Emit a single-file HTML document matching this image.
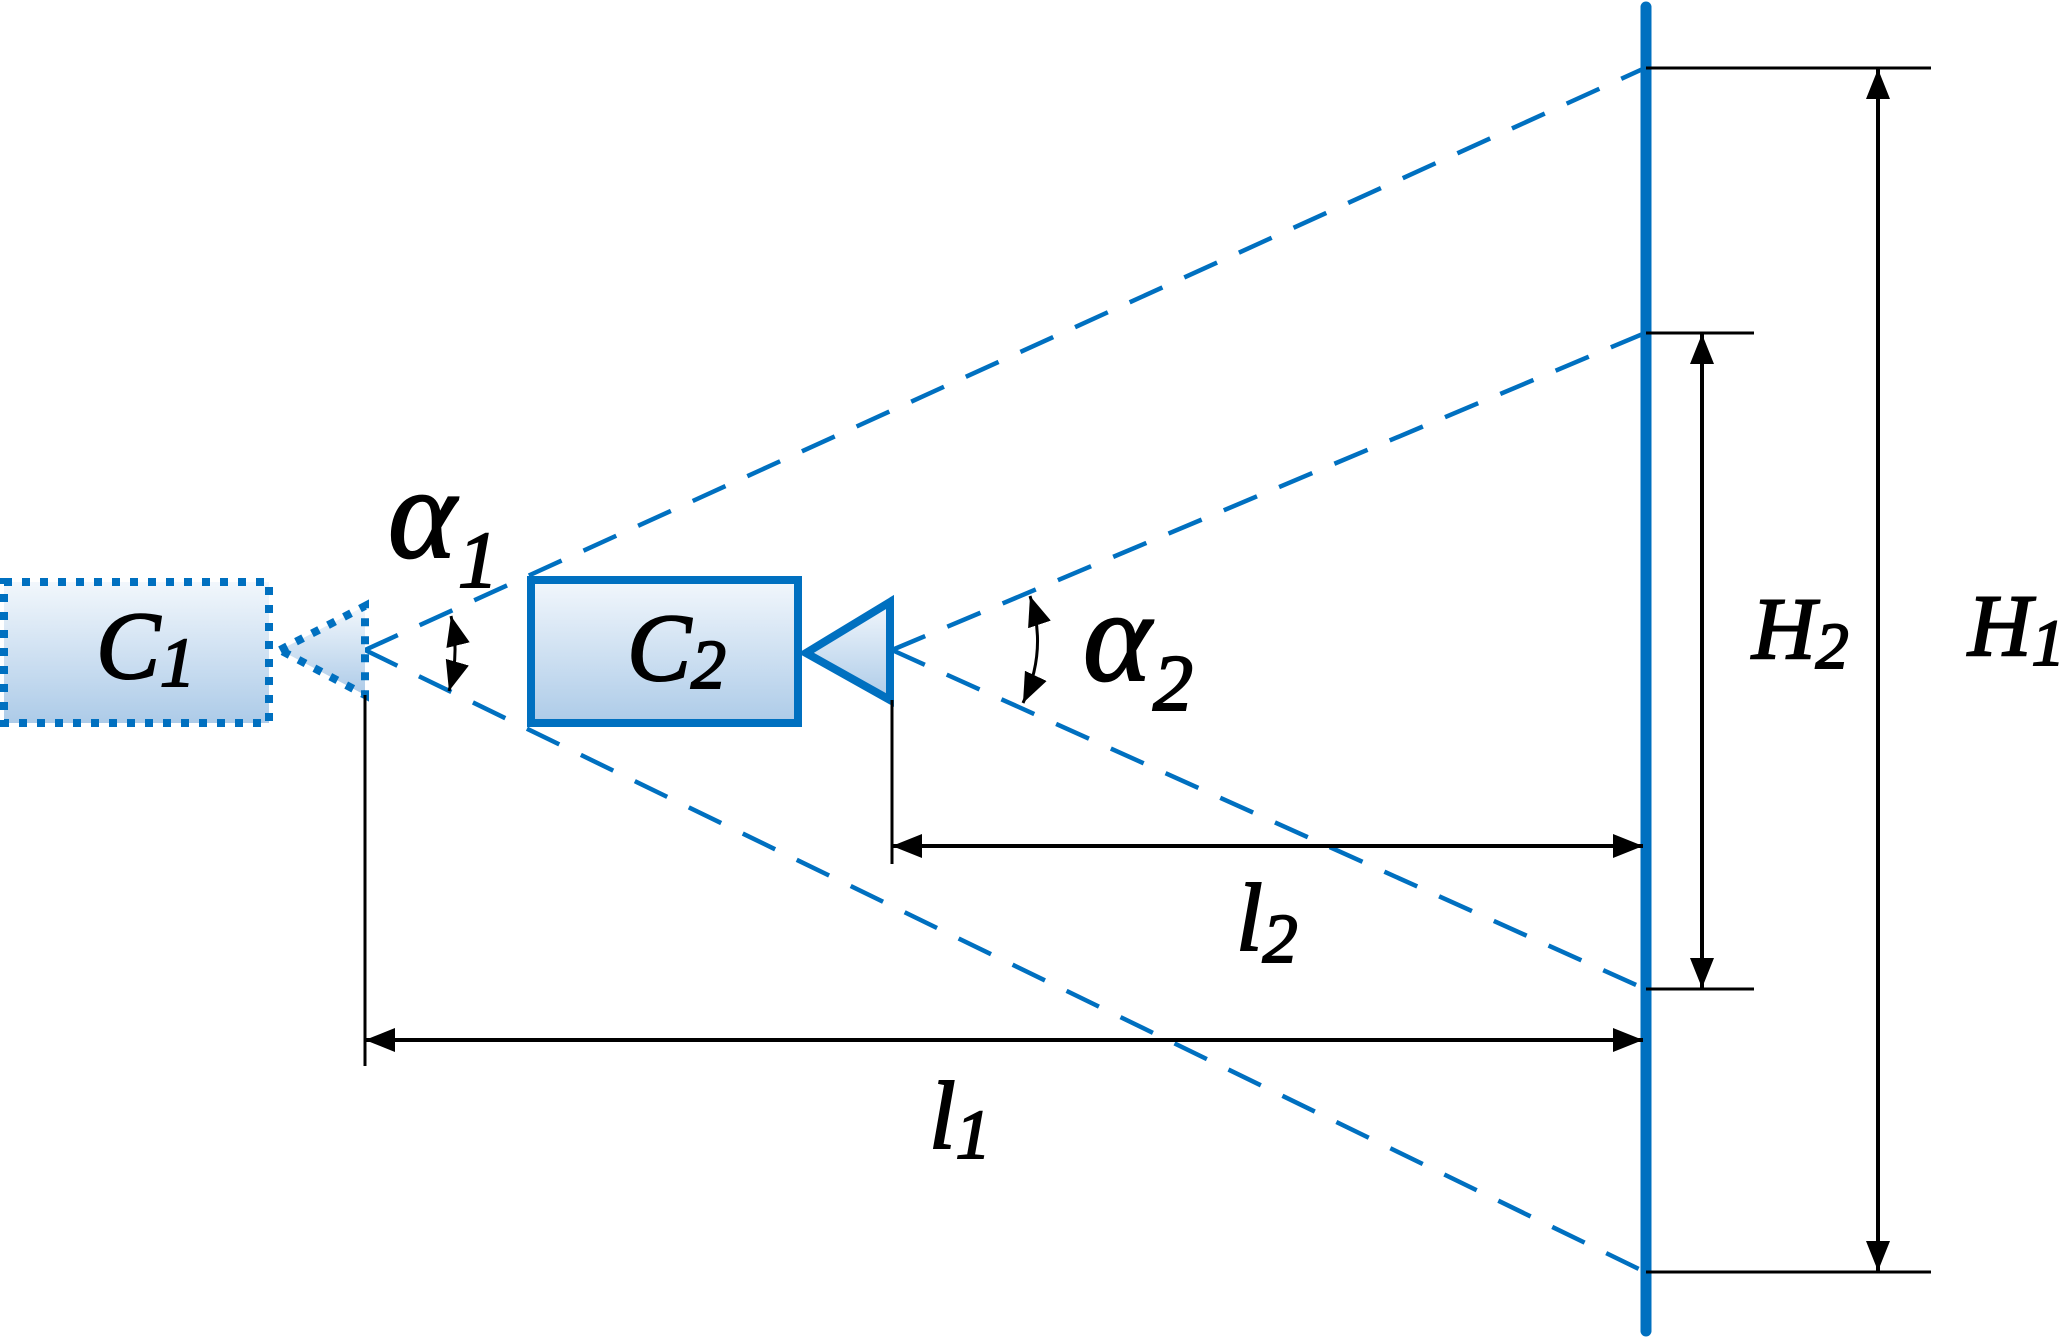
<!DOCTYPE html>
<html><head><meta charset="utf-8"><style>
html,body{margin:0;padding:0;background:#fff;}
svg{display:block;}
text{font-family:"Liberation Serif","Times New Roman",serif;font-style:italic;font-weight:normal;fill:#000;stroke:#000;stroke-width:2;}
</style></head><body>
<svg width="2067" height="1338" viewBox="0 0 2067 1338" xmlns="http://www.w3.org/2000/svg">
<defs>
<linearGradient id="g" x1="0" y1="0" x2="0" y2="1">
<stop offset="0" stop-color="#f2f7fc"/>
<stop offset="1" stop-color="#adcbe8"/>
</linearGradient>
<marker id="big" viewBox="0 0 30 24" refX="30" refY="12" markerWidth="30" markerHeight="24" markerUnits="userSpaceOnUse" orient="auto-start-reverse">
<path d="M0,0 L30,12 L0,24 z" fill="#000"/>
</marker>
</defs>

<g stroke="#0070c0" stroke-width="4.5" stroke-dasharray="36 24" fill="none">
<line x1="365" y1="650" x2="1645" y2="68"/>
<line x1="365" y1="650" x2="1645" y2="1272"/>
<line x1="892" y1="650" x2="1645" y2="333"/>
<line x1="892" y1="650" x2="1645" y2="989"/>
</g>

<rect x="4" y="582" width="265" height="141" fill="url(#g)" stroke="#0070c0" stroke-width="8" stroke-dasharray="8 10"/>
<polygon points="280,650 365,606 365,695" fill="url(#g)" stroke="#0070c0" stroke-width="8" stroke-dasharray="8 10"/>

<rect x="531" y="580" width="267" height="143" fill="url(#g)" stroke="#0070c0" stroke-width="8"/>
<polygon points="806,653 890,602 890,700" fill="url(#g)" stroke="#0070c0" stroke-width="8"/>

<line x1="1646" y1="7" x2="1646" y2="1331" stroke="#0070c0" stroke-width="11" stroke-linecap="round"/>

<g stroke="#000" stroke-width="3">
<line x1="365" y1="695" x2="365" y2="1066"/>
<line x1="892" y1="700" x2="892" y2="864"/>
<line x1="1646" y1="68" x2="1931" y2="68"/>
<line x1="1646" y1="333" x2="1754" y2="333"/>
<line x1="1646" y1="989" x2="1754" y2="989"/>
<line x1="1646" y1="1272" x2="1931" y2="1272"/>
</g>

<g stroke="#000" stroke-width="4" fill="none">
<line x1="892" y1="846" x2="1643" y2="846" marker-start="url(#big)" marker-end="url(#big)"/>
<line x1="365" y1="1040" x2="1643" y2="1040" marker-start="url(#big)" marker-end="url(#big)"/>
<line x1="1702" y1="334" x2="1702" y2="988" marker-start="url(#big)" marker-end="url(#big)"/>
<line x1="1878" y1="69" x2="1878" y2="1271" marker-start="url(#big)" marker-end="url(#big)"/>
</g>

<g stroke="#000" stroke-width="3" fill="none">
<path d="M451,616 Q460,653 449,691" marker-start="url(#big)" marker-end="url(#big)"/>
<path d="M1030,596 Q1048,650 1023,703" marker-start="url(#big)" marker-end="url(#big)"/>
</g>

<text x="96" y="678" font-size="96">C<tspan font-size="70" dy="8">1</tspan></text>
<text x="627" y="680" font-size="96">C<tspan font-size="70" dy="8">2</tspan></text>
<text x="388" y="557" font-size="130" stroke-width="1">α</text>
<text x="458" y="587" font-size="80" font-style="normal" stroke-width="1">1</text>
<text x="1083" y="680" font-size="130" stroke-width="1">α</text>
<text x="1153" y="710" font-size="80" font-style="normal" stroke-width="1">2</text>
<text x="1236" y="950" font-size="96">l<tspan font-size="70" dy="12">2</tspan></text>
<text x="929" y="1148" font-size="96">l<tspan font-size="70" dy="10">1</tspan></text>
<text x="1752" y="658" font-size="88">H<tspan font-size="66" dy="10">2</tspan></text>
<text x="1968" y="655" font-size="88">H<tspan font-size="66" dy="10">1</tspan></text>
</svg>
</body></html>
